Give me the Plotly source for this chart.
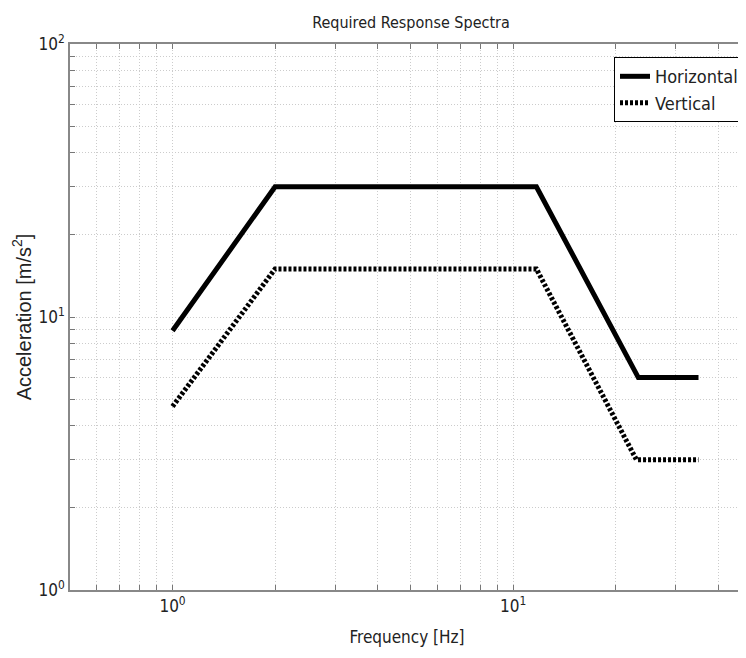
import plotly.graph_objects as go
import numpy as np

freq_h = [1, 2, 11.7, 23.3, 35]
acc_h = [8.9, 30, 30, 6, 6]
freq_v = [1, 2, 11.7, 23, 35]
acc_v = [4.7, 15, 15, 3, 3]

x_grid = [0.5, 0.6, 0.7, 0.8, 0.9, 1, 2, 3, 4, 5, 6, 7, 8, 9, 10, 20, 30, 40]
x_major = {1: "10<sup>0</sup>", 10: "10<sup>1</sup>"}
y_grid = [1, 2, 3, 4, 5, 6, 7, 8, 9, 10, 20, 30, 40, 50, 60, 70, 80, 90, 100]
y_major = {1: "10<sup>0</sup>", 10: "10<sup>1</sup>", 100: "10<sup>2</sup>"}

FONT = "DejaVu Sans Condensed, Liberation Sans Narrow, Liberation Sans, Arial, sans-serif"

# page body has an 8px margin, so the figure is sized to fit the window
W, H = 738, 650

fig = go.Figure()
fig.add_trace(go.Scatter(x=freq_h, y=acc_h, mode="lines", name="Horizontal",
                         line=dict(color="black", width=5)))
fig.add_trace(go.Scatter(x=freq_v, y=acc_v, mode="lines", name="Vertical",
                         line=dict(color="black", width=5, dash="3px,2px")))

fig.update_layout(
    width=W, height=H,
    margin=dict(l=62, r=2, t=36, b=68, autoexpand=False),
    paper_bgcolor="white", plot_bgcolor="white",
    title=dict(text="Required Response Spectra", x=403 / W, xanchor="center", y=1 - 14 / H, yanchor="middle",
               font=dict(family=FONT, size=16, color="#222"), automargin=False),
    font=dict(family=FONT, color="#222"),
    legend=dict(x=1.0, xanchor="right", y=0.976, yanchor="top",
                bordercolor="black", borderwidth=1, bgcolor="white",
                font=dict(family=FONT, size=18, color="#222"),
                tracegroupgap=0),
    showlegend=True,
)
fig.update_xaxes(
    type="log", range=[np.log10(0.5), np.log10(47.6)],
    tickmode="array", tickvals=x_grid,
    ticktext=[x_major.get(v, "") for v in x_grid],
    ticks="inside", ticklen=5, tickcolor="#777",
    showline=True, linecolor="#888", linewidth=1.5, mirror="ticks",
    showgrid=True, gridcolor="#cccccc", griddash="1px,2px", gridwidth=1,
    tickfont=dict(family=FONT, size=17, color="#222"),
    title=dict(text="Frequency [Hz]", font=dict(family=FONT, size=17, color="#222"), standoff=16),
    zeroline=False, automargin=False,
)
fig.update_yaxes(
    type="log", range=[0, 2],
    tickmode="array", tickvals=y_grid,
    ticktext=[y_major.get(v, "") for v in y_grid],
    ticks="inside", ticklen=5, tickcolor="#777",
    showline=True, linecolor="#888", linewidth=1.5, mirror=False,
    showgrid=True, gridcolor="#cccccc", griddash="1px,2px", gridwidth=1,
    tickfont=dict(family=FONT, size=17, color="#222"),
    title=dict(text="Acceleration [m/s<sup>2</sup>]", font=dict(family="Liberation Sans, Arial, sans-serif", size=20, color="#222"), standoff=2),
    zeroline=False, automargin=False,
)

fig.write_html("out.html")
